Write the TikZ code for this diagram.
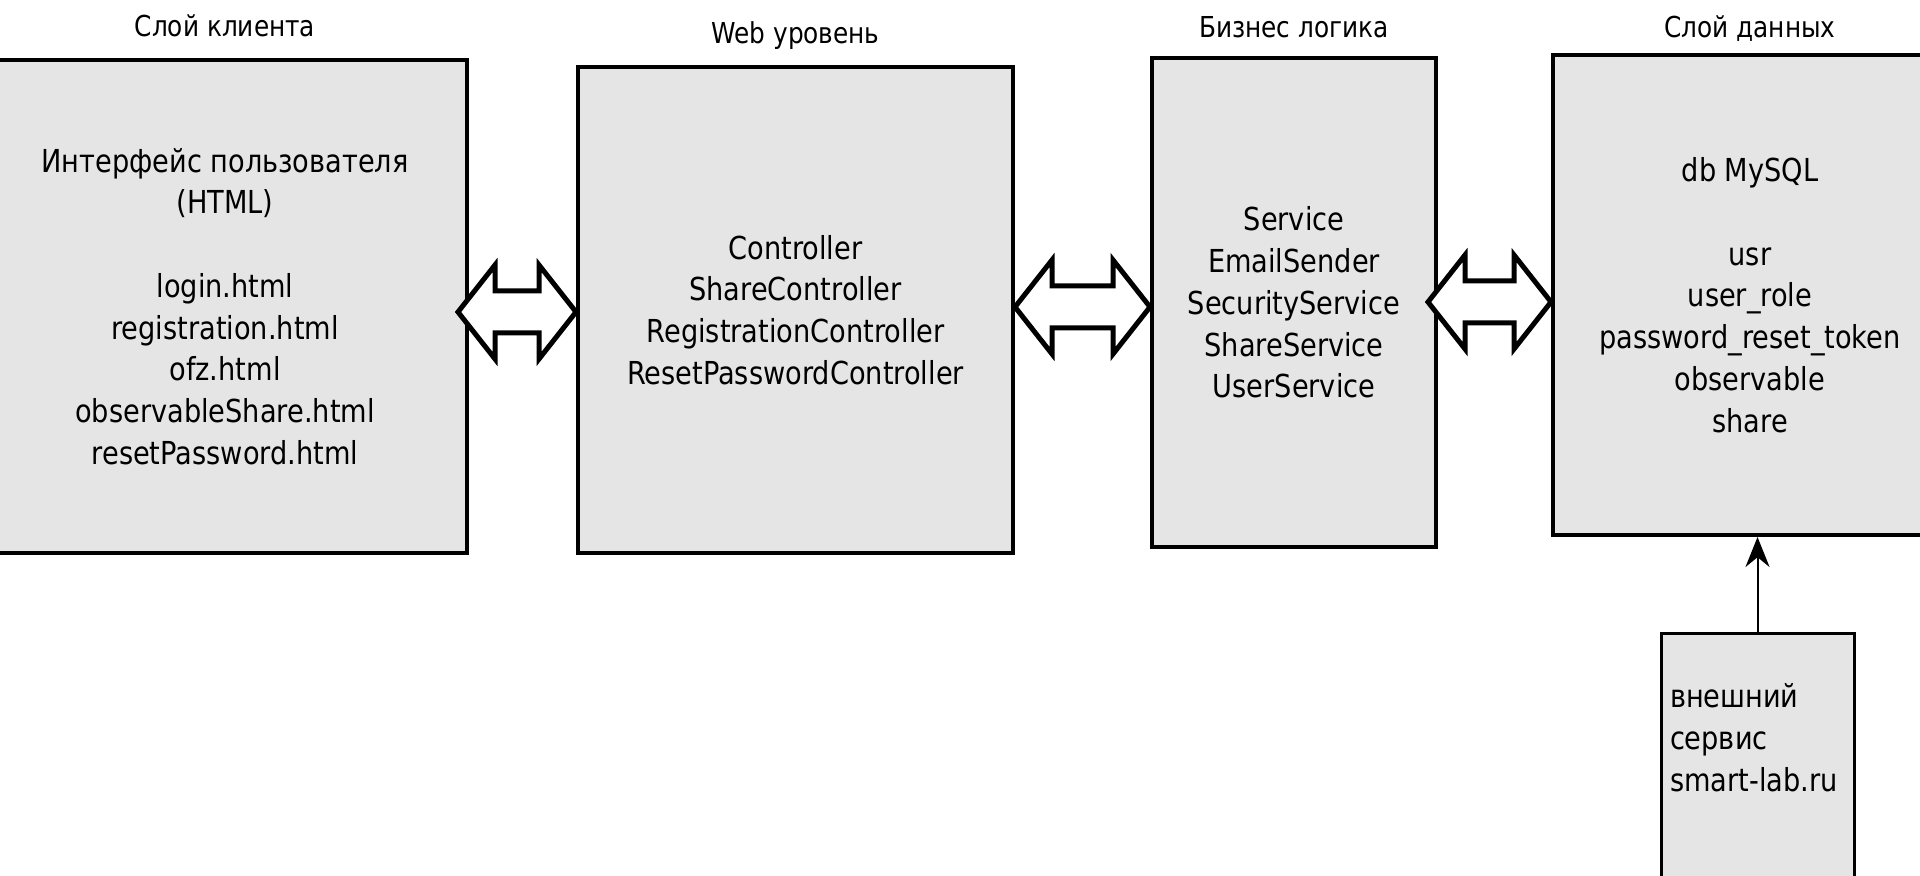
\documentclass[tikz,border=0pt]{standalone}
\usepackage{fontspec}
\setmainfont{DejaVu Sans}[FakeStretch=0.86]
\usetikzlibrary{positioning,calc,arrows.meta}
\definecolor{boxgray}{HTML}{E5E5E5}
% wide two-headed arrow between two tip points
\newcommand{\widearrow}[2]{%
  \draw[duplex] (#1) -- ++(0.37,0.47) -- ++(0,-0.26) -- ($(#2)+(-0.37,0.21)$)
    -- ++(0,0.26) -- (#2) -- ++(-0.37,-0.47) -- ++(0,0.26)
    -- ($(#1)+(0.37,-0.21)$) -- ++(0,-0.26) -- cycle;}
\begin{document}
\begin{tikzpicture}[
    font=\fontsize{9}{11.88}\selectfont,
    layer/.style={draw, line width=0.04cm, fill=boxgray, align=center, inner sep=0},
    extbox/.style={draw, line width=0.03cm, fill=boxgray, inner xsep=0.09cm, inner ysep=0.5cm, minimum width=1.93cm},
    title/.style={inner sep=0, anchor=base, font=\fontsize{8.2}{10}\selectfont},
    duplex/.style={draw, line width=0.05cm, fill=white},
    feed/.style={line width=0.02cm, -{Stealth[length=0.3cm, width=0.24cm]}}]
    \useasboundingbox (0,0) rectangle (19.2,-8.76);
    \clip (0,0) rectangle (19.2,-8.76);
    % layers
    \node[layer, minimum width=4.84cm, minimum height=4.93cm] (client) at (2.25,-3.065)
        {Интерфейс пользователя\\(HTML)\\[\baselineskip]login.html\\registration.html\\ofz.html\\observableShare.html\\resetPassword.html};
    \node[layer, minimum width=4.35cm, minimum height=4.86cm] (web) at (7.955,-3.10)
        {Controller\\ShareController\\RegistrationController\\ResetPasswordController};
    \node[layer, minimum width=2.84cm, minimum height=4.89cm] (logic) at (12.94,-3.025)
        {Service\\EmailSender\\SecurityService\\ShareService\\UserService};
    \node[layer, minimum width=3.94cm, minimum height=4.80cm] (data) at (17.50,-2.95)
        {db MySQL\\[\baselineskip]usr\\user\_role\\password\_reset\_token\\observable\\share};
    \node[extbox, anchor=north] (ext) at (17.575,-6.32)
        {\parbox[t][2.6cm][t]{1.75cm}{\raggedright внешний\\сервис\\\mbox{smart-lab.ru}}};
    % titles
    \node[above=0.21cm of client.north, title] (clienttitle) {Слой клиента};
    \node[above=0.21cm of web.north, title] (webtitle) {Web уровень};
    \node[above=0.18cm of logic.north, title] (logictitle) {Бизнес логика};
    \node[above=0.15cm of data.north, title] (datatitle) {Слой данных};
    % connectors
    \coordinate (a1l) at (4.58,-3.12);
    \coordinate (a1r) at (web.west |- a1l);
    \coordinate (a2l) at (web.east |- 0,-3.07);
    \coordinate (a2r) at (logic.west |- a2l);
    \coordinate (a3l) at (14.28,-3.02);
    \coordinate (a3r) at (data.west |- a3l);
    \widearrow{a1l}{a1r}
    \widearrow{a2l}{a2r}
    \widearrow{a3l}{a3r}
    \draw[feed] (ext.north) -- (ext.north |- data.south);
\end{tikzpicture}
\end{document}
